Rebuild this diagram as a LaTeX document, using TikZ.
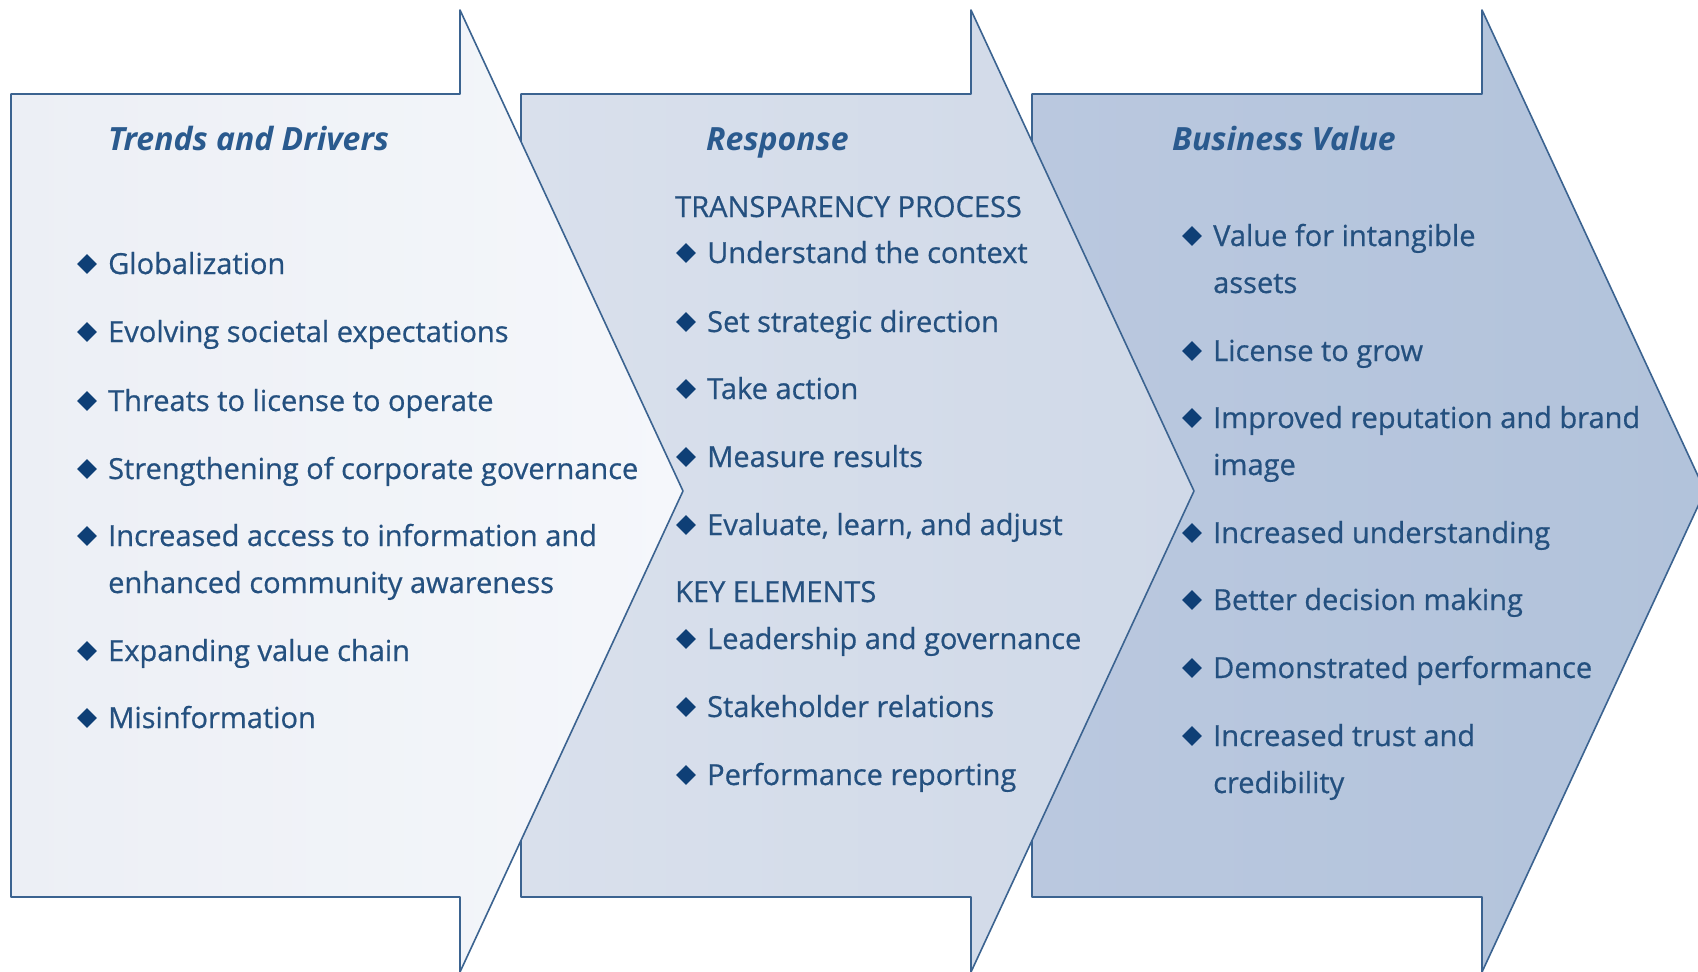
\documentclass[tikz,border=0pt]{standalone}
\usepackage{fontspec}
\setmainfont{Open Sans}
\newfontfamily\medfont[FakeBold=0.6]{Open Sans}
\usetikzlibrary{shapes.geometric}
\definecolor{txtc}{HTML}{24507F}
\definecolor{ttlc}{HTML}{2A5A8E}
\definecolor{diac}{HTML}{0E3F76}
\definecolor{edgec}{HTML}{3B6390}
\definecolor{aoneL}{HTML}{ECEFF5}
\definecolor{aoneR}{HTML}{F5F7FB}
\definecolor{atwoL}{HTML}{D9E0EC}
\definecolor{atwoR}{HTML}{D0D9E8}
\definecolor{athrL}{HTML}{BAC8DF}
\definecolor{athrR}{HTML}{B2C3DB}
\newcommand\bitem[4]{%
  \node[dia] (#1d) at (#2-21,#3-10) {};
  \node[itemtext] (#1) at (#2,#3) {#4};}
\newcommand\pline[3]{\node[itemtext] (#1) at (#2) {#3};}
\begin{document}
\begin{tikzpicture}[x=1pt,y=-1pt,
  itemtext/.style={anchor=base west, inner sep=0pt, text=txtc, font=\medfont\fontsize{29}{34}\selectfont},
  ttl/.style={anchor=base west, inner sep=0pt, text=ttlc, font=\fontsize{32}{36}\selectfont\bfseries\itshape},
  dia/.style={diamond, fill=diac, inner sep=0pt, minimum size=20pt},
  arrowshape/.style={draw=edgec, line width=1.6pt, line join=round}]
\useasboundingbox (0,0) rectangle (1698,972);
\clip (0,0) rectangle (1698,972);
\fill[white] (0,0) rectangle (1698,972);
% arrows, back to front
\path[arrowshape, left color=athrL, right color=athrR]
  (1032,94) -- (1482,94) -- (1482,10) -- (1705,491) -- (1482,972) -- (1482,897) -- (1032,897) -- cycle;
\path[arrowshape, left color=atwoL, right color=atwoR]
  (521,94) -- (971,94) -- (971,10) -- (1194,491) -- (971,972) -- (971,897) -- (521,897) -- cycle;
\path[arrowshape, left color=aoneL, right color=aoneR]
  (11,94) -- (460,94) -- (460,10) -- (683,491) -- (460,972) -- (460,897) -- (11,897) -- cycle;
% column 1
\node[ttl] (t1) at (108,150) {Trends and Drivers};
\bitem{a1}{108}{274}{Globalization}
\bitem{a2}{108}{342}{Evolving societal expectations}
\bitem{a3}{108}{411}{Threats to license to operate}
\bitem{a4}{108}{479}{Strengthening of corporate governance}
\bitem{a5}{108}{546}{Increased access to information and}
\pline{a5b}{108,593}{enhanced community awareness}
\bitem{a6}{108}{661}{Expanding value chain}
\bitem{a7}{108}{728}{Misinformation}
% column 2
\node[ttl] (t2) at (706,150) {Response};
\pline{h1}{675,217}{TRANSPARENCY PROCESS}
\bitem{b1}{707}{263}{Understand the context}
\bitem{b2}{707}{332}{Set strategic direction}
\bitem{b3}{707}{399}{Take action}
\bitem{b4}{707}{467}{Measure results}
\bitem{b5}{707}{535}{Evaluate, learn, and adjust}
\pline{h2}{675,602}{KEY ELEMENTS}
\bitem{b6}{707}{649}{Leadership and governance}
\bitem{b7}{707}{717}{Stakeholder relations}
\bitem{b8}{707}{785}{Performance reporting}
% column 3
\node[ttl] (t3) at (1172,150) {Business Value};
\bitem{c1}{1213}{246}{Value for intangible}
\pline{c1b}{1213,293}{assets}
\bitem{c2}{1213}{361}{License to grow}
\bitem{c3}{1213}{428}{Improved reputation and brand}
\pline{c3b}{1213,475}{image}
\bitem{c4}{1213}{543}{Increased understanding}
\bitem{c5}{1213}{610}{Better decision making}
\bitem{c6}{1213}{678}{Demonstrated performance}
\bitem{c7}{1213}{746}{Increased trust and}
\pline{c7b}{1213,793}{credibility}
\end{tikzpicture}
\end{document}
